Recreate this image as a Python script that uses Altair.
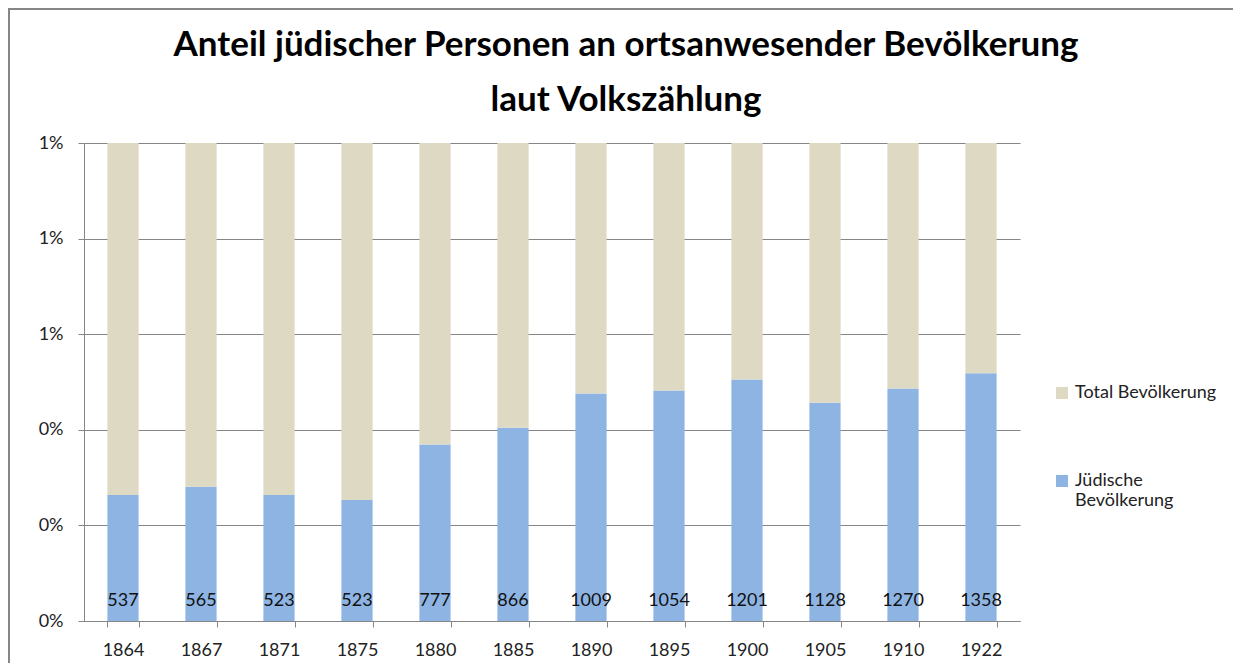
import altair as alt
import pandas as pd

years = ["1864", "1867", "1871", "1875", "1880", "1885", "1890", "1895", "1900", "1905", "1910", "1922"]
jewish_counts = [537, 565, 523, 523, 777, 866, 1009, 1054, 1201, 1128, 1270, 1358]
jewish_share = [0.002634, 0.002809, 0.002634, 0.002529, 0.003694, 0.004043,
                0.004760, 0.004822, 0.005052, 0.004565, 0.004864, 0.005184]
axis_max = 0.01
series = ["Total Bevölkerung", "Jüdische Bevölkerung"]
colors = ["#DDD9C3", "#8EB4E3"]
y_ticks = [0, 0.002, 0.004, 0.006, 0.008, 0.01]

rows = []
for y, c, s in zip(years, jewish_counts, jewish_share):
    rows.append({"year": y, "series": series[1], "value": s, "ord": 1, "count": c})
    rows.append({"year": y, "series": series[0], "value": axis_max - s, "ord": 2, "count": c})
df = pd.DataFrame(rows)
lab = pd.DataFrame({"year": years, "count": jewish_counts})

FONT = "Lato"
GRID = "#868686"

x_enc = alt.X("year:N", sort=years, title=None,
              scale=alt.Scale(paddingInner=0.6, paddingOuter=0.3),
              axis=alt.Axis(labelAngle=0, tickBand="extent", tickSize=6, labelPadding=14,
                            domainColor=GRID, tickColor=GRID, labelFont=FONT,
                            labelFontSize=18, labelColor="#222222", grid=False))

bars = alt.Chart(df).mark_bar().encode(
    x=x_enc,
    y=alt.Y("value:Q", stack="zero", title=None,
            scale=alt.Scale(domain=[0, axis_max], nice=False),
            axis=alt.Axis(values=y_ticks, format=".0%", grid=True, gridColor=GRID,
                          tickSize=6, tickColor=GRID, domainColor=GRID, labelPadding=15,
                          labelFont=FONT, labelFontSize=18, labelColor="#222222")),
    color=alt.Color("series:N", scale=alt.Scale(domain=series, range=colors),
                    legend=alt.Legend(title=None, orient="none", legendX=969, legendY=241,
                                      symbolType="square", symbolSize=144,
                                      symbolStrokeWidth=0, labelFont=FONT,
                                      labelFontSize=18, labelColor="#222222",
                                      rowPadding=70, labelOffset=4,
                                      labelExpr="datum.label == 'Jüdische Bevölkerung' ? ['Jüdische', 'Bevölkerung'] : datum.label")),
    order=alt.Order("ord:Q"),
)

labels = alt.Chart(lab).mark_text(font=FONT, fontSize=18, baseline="bottom", dy=-11,
                                  color="#111111").encode(
    x=alt.X("year:N", sort=years),
    y=alt.datum(0),
    text="count:Q",
)

frame = pd.DataFrame({"k": [0]})
border = alt.Chart(frame).mark_rect(fillOpacity=0, stroke=GRID, strokeWidth=2).encode(
    x=alt.value(-75), x2=alt.value(1300), y=alt.value(-134), y2=alt.value(700))

chart = alt.layer(bars, labels, border).properties(
    width=936, height=478,
    title=alt.Title(["Anteil jüdischer Personen an ortsanwesender Bevölkerung", "laut Volkszählung"],
                    font=FONT, fontSize=35, fontWeight="bold", color="#000000",
                    anchor="middle", frame="group", dx=74, dy=110, lineHeight=55, offset=0),
    padding={"left": 76, "top": 135, "right": 213, "bottom": 42},
    autosize=alt.AutoSizeParams(type="none"),
).configure_view(stroke=None).configure_axisY(domain=True)

chart.save("out.html", embed_options={"renderer": "svg", "actions": False})
